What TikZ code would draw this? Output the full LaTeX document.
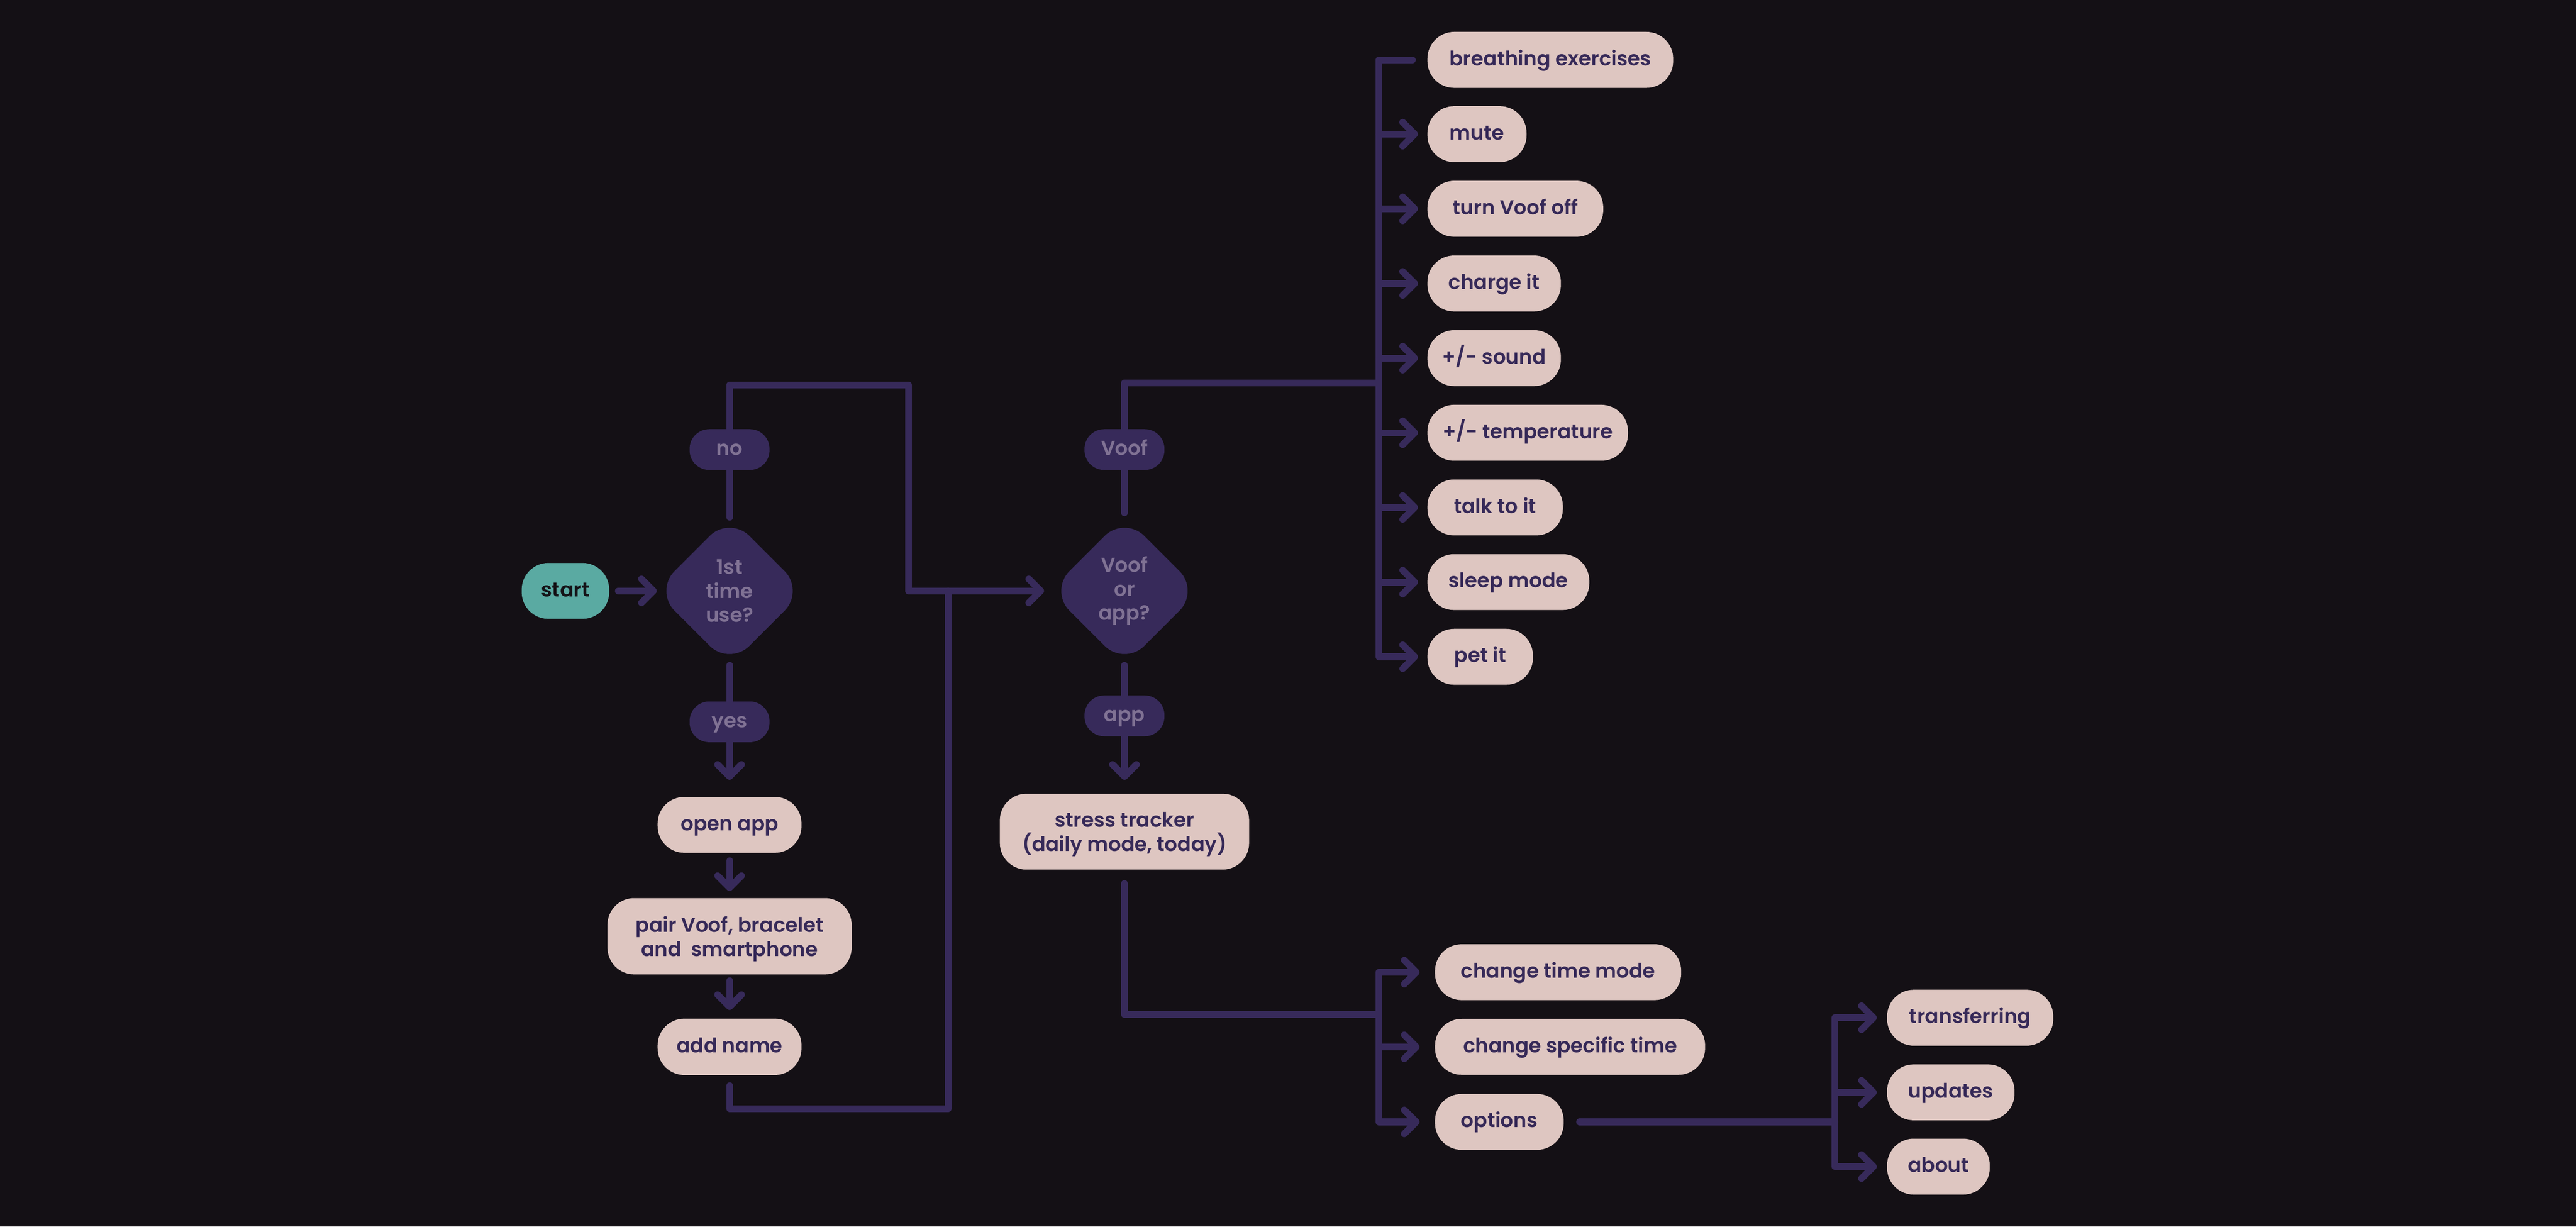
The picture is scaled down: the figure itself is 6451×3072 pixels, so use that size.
\documentclass[tikz,border=0pt]{standalone}
\usepackage{fontspec}
\setmainfont{Poppins SemiBold}
\usetikzlibrary{arrows.meta,shapes.geometric,calc}
\definecolor{bgc}{HTML}{141015}
\definecolor{pillc}{HTML}{DEC6C1}
\definecolor{txtc}{HTML}{362958}
\definecolor{lin}{HTML}{372A5A}
\definecolor{dtxt}{HTML}{807294}
\definecolor{tealc}{HTML}{5AAAA2}
\definecolor{startc}{HTML}{141216}
\pgfdeclarelayer{back}
\pgfdeclarelayer{conn}
\pgfsetlayers{back,conn,main}
\begin{document}
\begin{tikzpicture}[x=0.01cm,y=-0.01cm,
  conn/.style={draw=lin, line width=4.8pt, line cap=round, line join=round},
  arr/.style={conn, -{Straight Barb[length=8.5pt,width=17pt,round]}},
  pillbase/.style={fill=pillc, text=txtc, rounded corners=19pt, minimum height=1.4cm,
    inner xsep=4pt, font=\fontsize{14.3}{17}\selectfont, align=center},
  pill/.style={pillbase, text height=0.8em, text depth=0pt},
  pilltwo/.style={pillbase, text depth=0pt},
  tag/.style={fill=lin, text=dtxt, rounded corners=14pt, minimum width=2cm,
    minimum height=1.02cm, font=\fontsize{14.3}{17}\selectfont,
    text height=0.8em, text depth=0pt},
  dec/.style={diamond, fill=lin, minimum width=3.75cm, minimum height=3.75cm,
    rounded corners=20pt, inner sep=0pt},
  dectxt/.style={text=dtxt, align=center, font=\fontsize{14.3}{17}\selectfont}
]
\begin{pgfonlayer}{back}
\fill[bgc] (0,0) rectangle (6451,3072);
\end{pgfonlayer}
\useasboundingbox (0,0) rectangle (6451,3072);

% left column
\node[pill, fill=tealc, text=startc, minimum width=2.19cm] (start) at (1416,1480) {start};
\node[dec] (d1) at (1827,1480) {};
\node[dectxt] (d1t) at (d1.center) {1st\\time\\use?};
\node[tag] (no) at (1827,1126) {no};
\node[tag] (yes) at (1827,1808) {yes};
\node[pill, minimum width=3.6cm] (open) at (1827,2066) {open app};
\node[pilltwo, minimum width=6.11cm, minimum height=1.91cm] (pair) at (1827,2345) {pair Voof, bracelet\\and~~smartphone};
\node[pill, minimum width=3.6cm, minimum height=1.41cm] (addn) at (1827,2622) {add name};

% middle column
\node[dec] (d2) at (2816,1480) {};
\node[dectxt] (d2t) at (d2.center) {Voof\\or\\app?};
\node[tag] (voof) at (2816,1126) {Voof};
\node[tag] (app) at (2816,1793) {app};
\node[pilltwo, minimum width=6.24cm, minimum height=1.9cm] (stress) at (2816,2083) {stress tracker\\(daily mode, today)};

% Voof branch
\node[pill, anchor=west, minimum width=6.15cm] (breath) at (3574,150) {breathing exercises};
\node[pill, anchor=west, minimum width=2.48cm] (mute) at (3574,336) {mute};
\node[pill, anchor=west, minimum width=4.40cm] (turn) at (3574,523) {turn Voof off};
\node[pill, anchor=west, minimum width=3.34cm] (charge) at (3574,710) {charge it};
\node[pill, anchor=west, minimum width=3.34cm] (sound) at (3574,897) {+/- sound};
\node[pill, anchor=west, minimum width=5.02cm] (temp) at (3574,1084) {+/- temperature};
\node[pill, anchor=west, minimum width=3.39cm] (talk) at (3574,1271) {talk to it};
\node[pill, anchor=west, minimum width=4.05cm] (sleep) at (3574,1458) {sleep mode};
\node[pill, anchor=west, minimum width=2.64cm] (pet) at (3574,1645) {pet it};

% app branch
\node[pill, anchor=west, minimum width=6.16cm] (ctm) at (3593,2435) {change time mode};
\node[pill, anchor=west, minimum width=6.76cm] (cst) at (3593,2622) {change specific time};
\node[pill, anchor=west, minimum width=3.22cm] (opts) at (3593,2810) {options};

% options branch
\node[pill, anchor=west, minimum width=4.16cm] (trans) at (4725,2549) {transferring};
\node[pill, anchor=west, minimum width=3.19cm] (upd) at (4725,2736) {updates};
\node[pill, anchor=west, minimum width=2.57cm] (about) at (4725,2922) {about};

\coordinate (j1) at (1827,964);
\coordinate (j2) at (2275,964);
\coordinate (j3) at (2275,1480);
\coordinate (j4) at (2374,1480);
\coordinate (j5) at (2374,2777);
\coordinate (j6) at (1827,2777);
\coordinate (v1) at (2816,959);
\coordinate (bx) at (3453,959);
\coordinate (s1) at (2816,2541);
\coordinate (bx2) at (3453,2541);
\coordinate (o1) at (4595,2810);

\begin{pgfonlayer}{conn}
\draw[arr] ([xshift=.22cm]start.east) -- ([xshift=.06cm]d1.west);
\draw[arr] ([yshift=-.04cm]d1.north) -- (j1) -- (j2) -- (j3) -- ([xshift=-.13cm]d2.west);
\draw[arr] ([yshift=.02cm]d1.south) -- ([yshift=.42cm]open.north);
\draw[arr] ([yshift=-.19cm]open.south) -- ([yshift=.17cm]pair.north);
\draw[arr] ([yshift=-.15cm]pair.south) -- ([yshift=.21cm]addn.north);
\draw[conn] ([yshift=-.26cm]addn.south) -- (j6) -- (j5) -- (j4);

\draw[conn] ([yshift=.07cm]d2.north) -- (v1) -- (bx);
\draw[arr] ([xshift=-.37cm]breath.west) -- (bx |- breath.west) -- (bx |- pet.west) -- ([xshift=-.23cm]pet.west);
\foreach \n in {mute,turn,charge,sound,temp,talk,sleep}
  \draw[arr] (bx |- \n.west) -- ([xshift=-.23cm]\n.west);

\draw[arr] ([yshift=.02cm]d2.south) -- ([yshift=.34cm]stress.north);
\draw[conn] ([yshift=-.34cm]stress.south) -- (s1) -- (bx2);
\draw[arr] (bx2) -- (bx2 |- ctm.west) -- ([xshift=-.38cm]ctm.west);
\draw[arr] (bx2) -- (bx2 |- opts.west) -- ([xshift=-.38cm]opts.west);
\draw[arr] (bx2 |- cst.west) -- ([xshift=-.38cm]cst.west);

\draw[conn] ([xshift=.39cm]opts.east) -- (o1);
\draw[arr] (o1) -- (o1 |- trans.west) -- ([xshift=-.25cm]trans.west);
\draw[arr] (o1) -- (o1 |- about.west) -- ([xshift=-.25cm]about.west);
\draw[arr] (o1 |- upd.west) -- ([xshift=-.25cm]upd.west);
\end{pgfonlayer}
\end{tikzpicture}
\end{document}
